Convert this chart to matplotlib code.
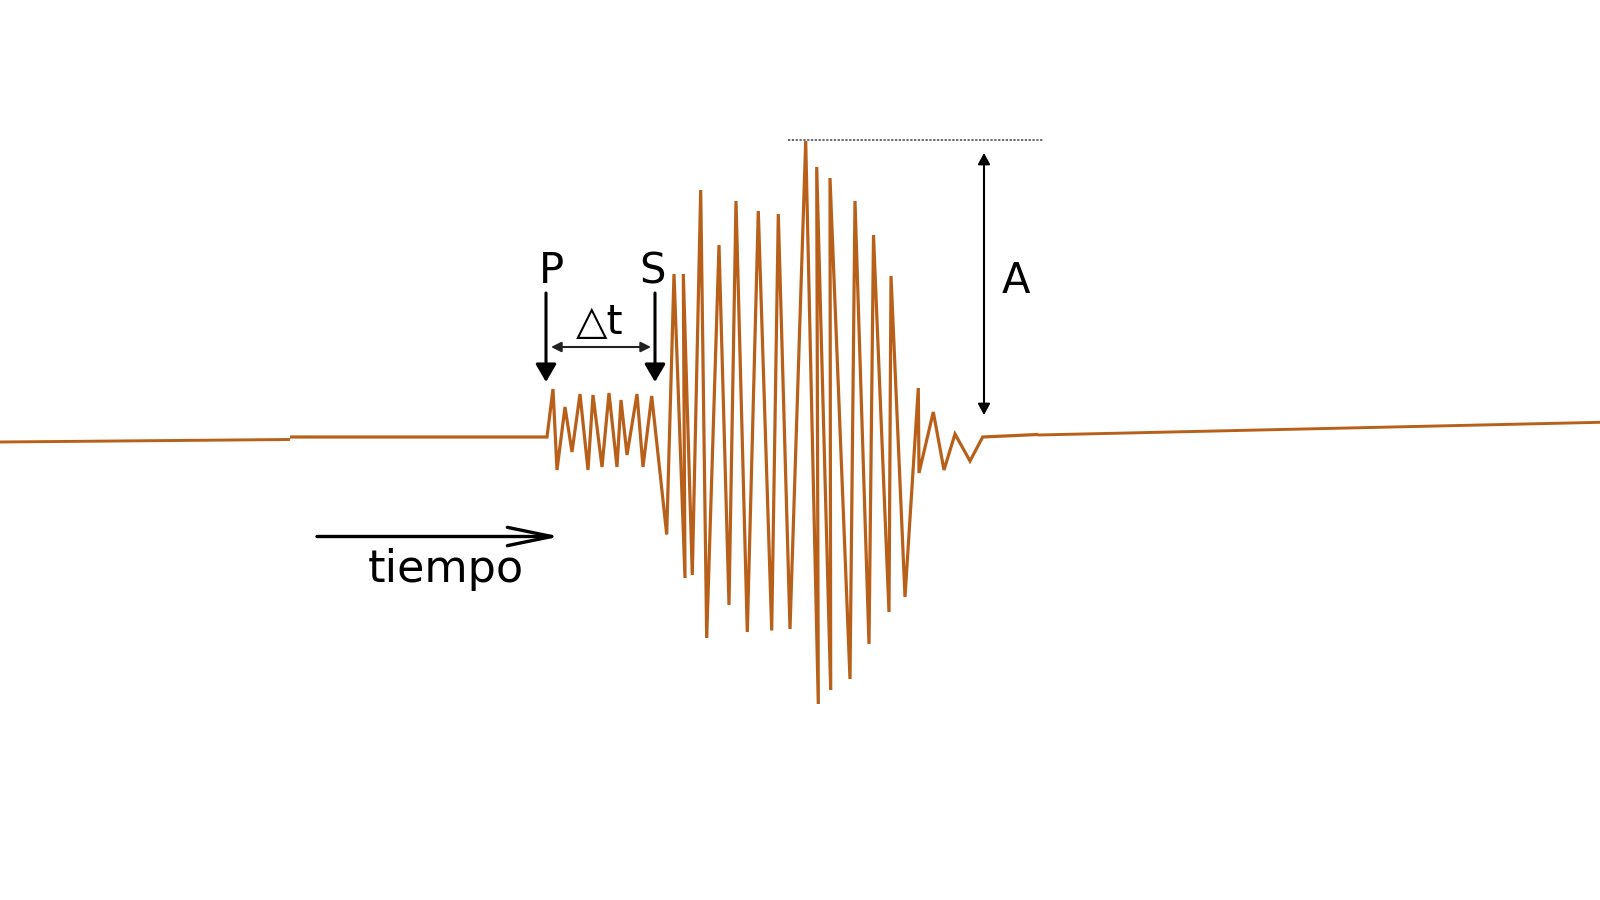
import matplotlib
matplotlib.use("Agg")
import matplotlib.pyplot as plt

# ---- data (pixel-like units: x to the right, y downward) ----
wave_x = [290, 547, 553, 557, 565, 572, 580, 588, 593, 602, 609, 617, 621, 627, 637, 643,
          651.7, 666.7, 674, 685, 683.3, 692.3, 700.7, 706.7, 719, 729, 736, 747.3, 758.3,
          771.7, 778.3, 790, 805.7, 818.3, 816.7, 830.7, 830, 850, 855, 869, 873.5, 889,
          891, 905, 918.3, 919, 933.3, 944, 955, 970, 982.7, 1038]
wave_y = [437, 437, 389, 470, 407, 452, 394, 470, 395, 467, 393, 467, 400, 455, 394, 467,
          396, 534.5, 274, 578, 274, 575, 190, 638, 245, 605, 201, 632, 211,
          630.5, 214, 629, 141, 704, 167, 690, 178, 679, 201, 644, 235, 612,
          276, 597, 388, 473, 412, 470, 434, 461, 437, 434.5]

base_left_x = [0, 290]
base_left_y = [442, 439.5]
base_right_x = [1038, 1600]
base_right_y = [435, 422.3]

p_arrival = 546
s_arrival = 655
amp_top = 140
amp_base = 415

labels = {"P": "P", "S": "S", "dt": "△t", "A": "A", "time": "tiempo"}

# ---- figure ----
ORANGE = "#b8601a"
fig = plt.figure(figsize=(16, 9), dpi=100)
ax = fig.add_axes([0, 0, 1, 1])
ax.set_xlim(0, 1600)
ax.set_ylim(900, 0)
ax.axis("off")

ax.plot(base_left_x, base_left_y, color=ORANGE, lw=2.1, solid_capstyle="butt")
ax.plot(base_right_x, base_right_y, color=ORANGE, lw=2.1, solid_capstyle="butt")
ax.plot(wave_x, wave_y, color=ORANGE, lw=2.3, solid_joinstyle="miter",
        solid_capstyle="butt")

# amplitude reference dotted line
ax.plot([788, 1043], [amp_top, amp_top], color="#444444", lw=1.1,
        linestyle=(0, (1.5, 1.0)))

# P and S arrows
for xa in (p_arrival, s_arrival):
    ax.annotate("", xy=(xa, 382), xytext=(xa, 293),
                arrowprops=dict(arrowstyle="-|>,head_length=0.6,head_width=0.35",
                                mutation_scale=18, lw=2.2, color="black",
                                shrinkA=0, shrinkB=0))

# delta t arrow
ax.annotate("", xy=(s_arrival - 4, 347), xytext=(p_arrival + 5, 347),
            arrowprops=dict(arrowstyle="<|-|>,head_length=0.5,head_width=0.25",
                            mutation_scale=12, lw=1.5, color="#222222",
                            shrinkA=0, shrinkB=0))

# amplitude arrow
ax.annotate("", xy=(984, amp_top + 13), xytext=(984, amp_base),
            arrowprops=dict(arrowstyle="<|-|>,head_length=0.55,head_width=0.3",
                            mutation_scale=12, lw=1.5, color="black",
                            shrinkA=0, shrinkB=0))

# time arrow
ax.annotate("", xy=(560, 536.5), xytext=(317, 536.5),
            arrowprops=dict(arrowstyle="->,head_length=1.6,head_width=0.33",
                            mutation_scale=20, lw=2.4, color="black",
                            shrinkA=0, shrinkB=0))

# labels
ax.text(551.5, 283, labels["P"], fontsize=30, ha="center", va="baseline")
ax.text(652.5, 283, labels["S"], fontsize=30, ha="center", va="baseline")
ax.text(600, 334, labels["dt"], fontsize=29.5, ha="center", va="baseline")
ax.text(1016, 293, labels["A"], fontsize=30, ha="center", va="baseline")
ax.text(446, 582, labels["time"], fontsize=32, ha="center", va="baseline")

fig.savefig("out.png", dpi=100, facecolor="white")
